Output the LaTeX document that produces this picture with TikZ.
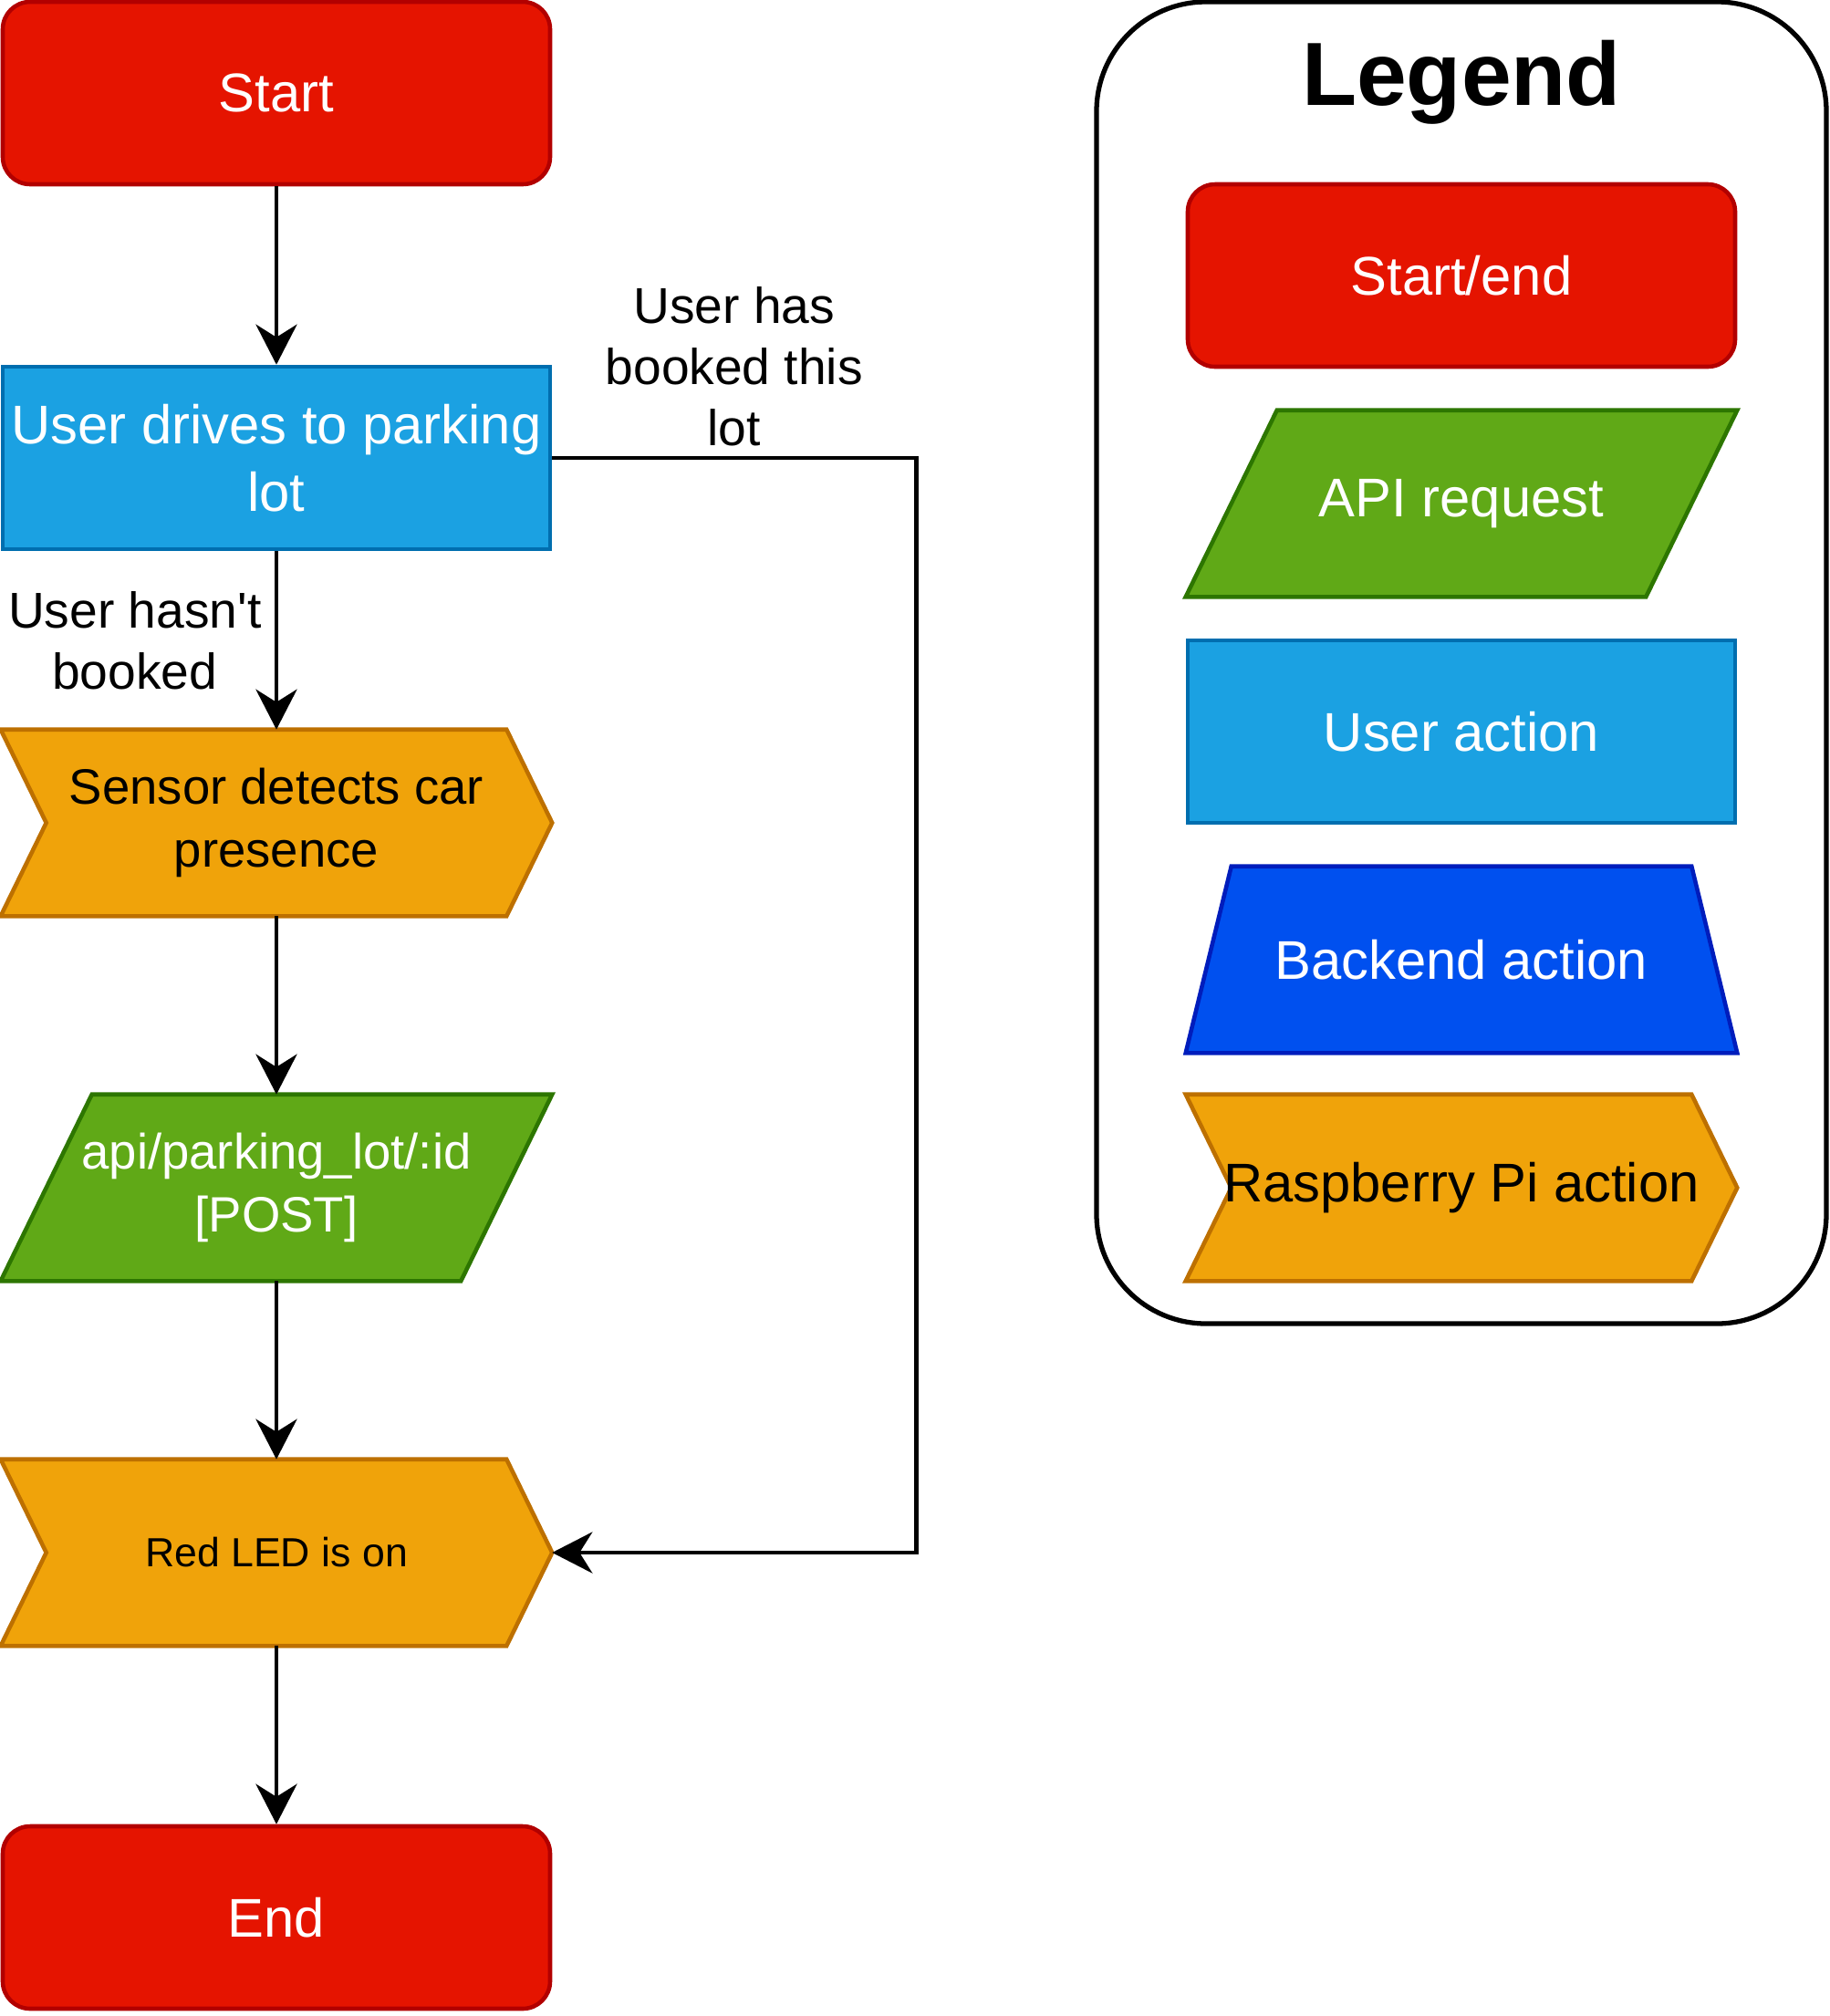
\documentclass[tikz,border=0pt]{standalone}
\usepackage{fontspec}
\setmainfont{Liberation Sans}
\usepackage{xcolor}
\definecolor{termfill}{HTML}{E51400}
\definecolor{termline}{HTML}{B20000}
\definecolor{userfill}{HTML}{1BA1E2}
\definecolor{userline}{HTML}{006EAF}
\definecolor{apifill}{HTML}{60A917}
\definecolor{apiline}{HTML}{2D7600}
\definecolor{backfill}{HTML}{0050EF}
\definecolor{backline}{HTML}{001DBC}
\definecolor{pifill}{HTML}{F0A30A}
\definecolor{piline}{HTML}{BD7000}
\usepackage{tikz}
\usetikzlibrary{arrows.meta,positioning,backgrounds}

\begin{document}
\begin{tikzpicture}[
  box/.style={rectangle, minimum width=6cm, minimum height=2cm, inner sep=0pt, align=center, line width=1.3pt, font=\fontsize{17}{21}\selectfont},
  term/.style={box, rounded corners=0.3cm, fill=termfill, draw=termline, text=white},
  user/.style={box, fill=userfill, draw=userline, text=white},
  api/.style={box, text=white},
  backend/.style={box, text=white},
  pi/.style={box, text=black},
  apishape/.style={fill=apifill, draw=apiline, line width=1.3pt},
  backshape/.style={fill=backfill, draw=backline, line width=1.3pt},
  pishape/.style={fill=pifill, draw=piline, line width=1.3pt},
  flow/.style={line width=1.4pt, -{Stealth[length=4.4mm, width=4.5mm, inset=1.4mm]}},
  lbl/.style={align=center, font=\fontsize{15.7}{19}\selectfont},
]
\useasboundingbox (0,0) rectangle (20.05,-22.10);

% Flow (left column)
\node[term] (start) at (3.03,-1.02) {Start};
\node[user] (udrive) at (3.03,-5.02) {User drives to parking\\lot};
\node[pi, font=\fontsize{15.5}{19.7}\selectfont] (sensor) at (3.03,-9.02) {Sensor detects car\\presence};
\node[api, font=\fontsize{15.5}{19.7}\selectfont] (api) at (3.03,-13.02) {api/parking\_lot/:id\\{}[POST]};
\node[pi, font=\fontsize{12.7}{15}\selectfont] (led) at (3.03,-17.02) {Red LED is on};
\node[term] (stop) at (3.03,-21.02) {End};

% Legend (right column)
\node[draw, line width=1.5pt, rounded corners=1.2cm, minimum width=8cm, minimum height=14.49cm] (legendbox) at (16.02,-7.265) {};
\node[anchor=base, font=\fontsize{28}{34}\selectfont\bfseries] (legendtitle) at (16.02,-1.15) {Legend};
\node[term] (keyterm) at (16.02,-3.02) {Start/end};
\node[api] (keyapi) at (16.02,-5.52) {API request};
\node[user] (keyuser) at (16.02,-8.02) {User action};
\node[backend] (keyback) at (16.02,-10.52) {Backend action};
\node[pi] (keypi) at (16.02,-13.02) {Raspberry Pi action};

% Outlines of the non-rectangular boxes
\begin{scope}[on background layer]
  \foreach \n in {sensor, led, keypi}
    \filldraw[pishape] (\n.north west) -- ([xshift=-5mm]\n.north east) -- (\n.east)
      -- ([xshift=-5mm]\n.south east) -- (\n.south west) -- ([xshift=5mm]\n.west) -- cycle;
  \foreach \n in {api, keyapi}
    \filldraw[apishape] ([xshift=1cm]\n.north west) -- (\n.north east)
      -- ([xshift=-1cm]\n.south east) -- (\n.south west) -- cycle;
  \filldraw[backshape] ([xshift=5mm]keyback.north west) -- ([xshift=-5mm]keyback.north east)
    -- (keyback.south east) -- (keyback.south west) -- cycle;
\end{scope}

% Arrows
\draw[flow] (start.south) -- (udrive.north);
\draw[flow] (udrive.south) -- node[lbl, left, inner sep=4pt] (nobook) {User hasn\textquotesingle t\\booked} (sensor.north);
\foreach \a/\b in {sensor/api, api/led, led/stop}
  \draw[flow] (\a.south) -- (\b.north);
\draw[flow] (udrive.east) -- ++(3.99,0) node[lbl, midway, above, inner sep=3pt] (booked) {User has\\booked this\\lot} |- (led.east);

\end{tikzpicture}
\end{document}
